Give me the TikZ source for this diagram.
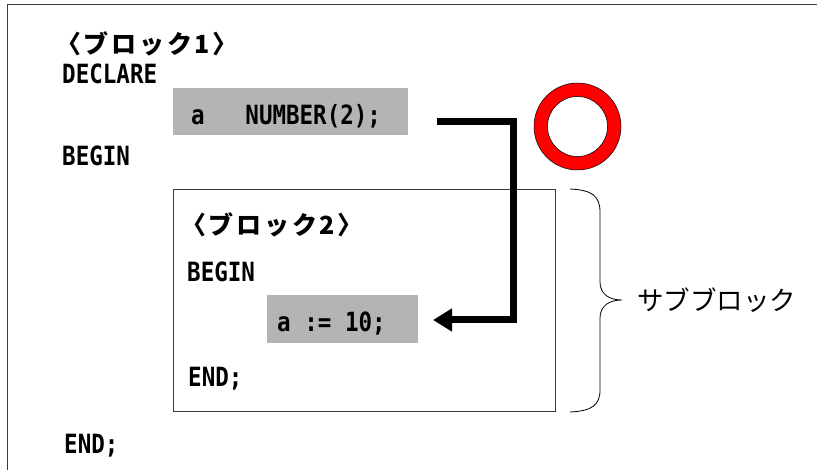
\documentclass[tikz,border=0pt]{standalone}
\usepackage{fontspec}
\usetikzlibrary{arrows.meta}
\newfontfamily\jpfont{Noto Sans CJK JP}
\newfontfamily\codefont[FakeStretch=0.85]{DejaVu Sans Mono}
\definecolor{codegray}{HTML}{B4B4B4}
\definecolor{framegray}{HTML}{3A3A3A}
\tikzset{
  codetext/.style={anchor=base west, inner sep=0pt, font=\codefont\bfseries\fontsize{26.5}{28}\selectfont},
  jplabel/.style={anchor=base west, inner sep=0pt, font=\jpfont\bfseries\fontsize{25}{27}\selectfont\addfontfeature{LetterSpace=11}},
  jpnote/.style={anchor=base west, inner sep=0pt, font=\jpfont\fontsize{26.5}{28}\selectfont},
  graybox/.style={fill=codegray, draw=none},
  flow/.style={line width=7pt, line join=miter, -{Triangle[length=19pt,width=22pt]}},
}
\begin{document}
\begin{tikzpicture}[x=1pt,y=-1pt]
\useasboundingbox (0,0) rectangle (817,470);
% outer frame (only top and left visible)
\draw[framegray, line width=1.5pt] (7.5,480) -- (7.5,4.5) -- (830,4.5);

% block 1
\node[jplabel] (b1) at (56,54) {〈ブロック1〉};
\node[codetext] (decl) at (62,84) {DECLARE};
\fill[graybox] (173,88) rectangle (408,135);
\node[codetext] (num) at (191,125) {a\ \ \ NUMBER(2);};
\node[codetext] (begin1) at (62,166) {BEGIN};
\node[codetext] (end1) at (64,453) {END;};

% block 2 (sub block)
\node[draw=framegray, line width=1pt, minimum width=382pt, minimum height=222pt, anchor=north west, inner sep=0pt] (inner) at (173,189) {};
\node[jplabel] (b2) at (181,235) {〈ブロック2〉};
\node[codetext] (begin2) at (187,282) {BEGIN};
\fill[graybox] (267,295) rectangle (418,343);
\node[codetext] (assign) at (277,332) {a := 10;};
\node[codetext] (end2) at (188,386) {END;};

% arrow
\coordinate (arrS) at (437,122);
\coordinate (arrE) at (433,320);
\draw[flow] (arrS) -- (513,122) -- (513,320) -- (arrE);

% red ring
\coordinate (ring) at (577.5,126.5);
\fill[red, even odd rule] (ring) circle (43.5pt) (ring) circle (30pt);
\draw[black, line width=0.5pt] (ring) circle (43.5pt) (ring) circle (30pt);

% brace
\draw[black, line width=0.8pt] (570,189) .. controls (592,190) and (600,196) .. (600,212)
  -- (600,282) .. controls (600,294) and (609,300) .. (622,300)
  .. controls (609,300) and (600,306) .. (600,318)
  -- (600,390) .. controls (600,405) and (592,411) .. (570,412);
\node[jpnote] (sub) at (637,311) {サブブロック};
\end{tikzpicture}
\end{document}
